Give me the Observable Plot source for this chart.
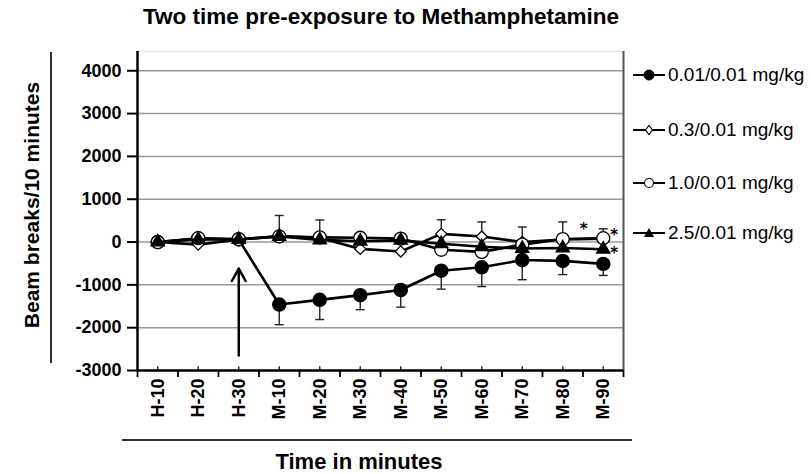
<!DOCTYPE html>
<html><head><meta charset="utf-8">
<script src="https://cdn.jsdelivr.net/npm/d3@7"></script>
<script src="https://cdn.jsdelivr.net/npm/@observablehq/plot@0.6"></script>
<style>
html,body{margin:0;padding:0;background:#fff;}
#wrap{position:relative;width:811px;height:474px;font-family:"Liberation Sans",Arial,sans-serif;color:#000;overflow:hidden;background:#fff}
#wrap svg.plot{position:absolute;left:0;top:0;}
.abs{position:absolute;white-space:nowrap;}
#title{left:0;width:762px;top:6px;text-align:center;font-weight:bold;font-size:22.5px;line-height:22px;}
#ytitle{left:-118px;width:300px;top:194px;height:22px;text-align:center;font-weight:bold;font-size:21px;line-height:22px;transform:rotate(-90deg);}
#yline{left:50px;top:52px;width:2px;height:311px;background:#333;}
#xtitle{left:0;width:718px;top:451px;text-align:center;font-weight:bold;font-size:22px;line-height:22px;}
#xline{left:122px;top:439px;width:510px;height:2px;background:#333;}
.leg{left:633px;height:20px;font-size:19px;line-height:20px;display:flex;align-items:center;}
.leg svg{display:block;margin-right:1px;}
</style>
</head><body>
<div id="wrap">
  <div id="title" class="abs"></div>
  <div id="ytitle" class="abs"></div>
  <div id="yline" class="abs"></div>
  <div id="xtitle" class="abs"></div>
  <div id="xline" class="abs"></div>
</div>
<script>
// ---- data ----
const chartTitle = "Two time pre-exposure to Methamphetamine";
const yTitle = "Beam breaks/10 minutes";
const xTitle = "Time in minutes";
const categories = ["H-10","H-20","H-30","M-10","M-20","M-30","M-40","M-50","M-60","M-70","M-80","M-90"];
const seriesNames = ["0.01/0.01 mg/kg","0.3/0.01 mg/kg","1.0/0.01 mg/kg","2.5/0.01 mg/kg"];
const s1 = [0, 80, 60, -1460, -1350, -1240, -1120, -670, -590, -420, -440, -510];
const s1ErrDown = [0, 0, 0, 470, 460, 340, 400, 430, 450, 460, 320, 270];
const s2 = [0, -60, 60, 140, 100, -160, -220, 190, 130, 0, 60, 80];
const s2ErrUp = [0, 0, 0, 480, 415, 0, 0, 330, 340, 350, 410, 230];
const s3 = [0, 90, 70, 130, 110, 100, 80, -180, -230, -60, 70, 90];
const s4 = [0, 60, 60, 130, 50, 20, 40, -40, -110, -150, -140, -170];
const yTicks = [-3000, -2000, -1000, 0, 1000, 2000, 3000, 4000];
const yDomain = [-3000, 4450];
const arrowCategory = "H-30";
const arrowFrom = -2650, arrowTo = -620;
const starM80 = [400];
const starM90 = [255, -165];

// ---- build ----
const idx = c => categories.indexOf(c) + 0.5;
const mk = (vals, errs) => vals.map((v, i) => ({cat: categories[i], x: i + 0.5, y: v, e: errs ? errs[i] : 0}));
const d1 = mk(s1, s1ErrDown), d2 = mk(s2, s2ErrUp), d3s = mk(s3), d4 = mk(s4);
const centers = categories.map((c, i) => i + 0.5);
const bounds = d3.range(0, categories.length + 1);
const capHalf = 0.11;

const lineStyle = {x: "x", y: "y", stroke: "black", strokeWidth: 2.6};
const errStyle = {stroke: "#222", strokeWidth: 1.4};
const starStyle = {text: () => "*", fontSize: 15, fontWeight: "bold", fontFamily: '"DejaVu Sans", sans-serif'};

const plot = Plot.plot({
  width: 811, height: 474,
  marginLeft: 137, marginRight: 188, marginTop: 51, marginBottom: 104,
  style: {fontFamily: '"Liberation Sans", Arial, sans-serif', background: "transparent", overflow: "visible"},
  x: {type: "linear", domain: [0, categories.length]},
  y: {domain: yDomain},
  marks: [
    Plot.ruleY([yDomain[1]], {stroke: "#e4e4e4", strokeWidth: 1.5}),
    Plot.gridY({ticks: yTicks.filter(t => t > yDomain[0]), stroke: "#999", strokeOpacity: 1, strokeWidth: 1.5}),
    Plot.ruleX([categories.length], {stroke: "#555", strokeWidth: 2}),
    // error bars
    Plot.ruleX(d1.filter(d => d.e > 0), {x: "x", y1: "y", y2: d => d.y - d.e, ...errStyle}),
    Plot.link(d1.filter(d => d.e > 0), {x1: d => d.x - capHalf, x2: d => d.x + capHalf, y1: d => d.y - d.e, y2: d => d.y - d.e, ...errStyle}),
    Plot.ruleX(d2.filter(d => d.e > 0), {x: "x", y1: "y", y2: d => d.y + d.e, ...errStyle}),
    Plot.link(d2.filter(d => d.e > 0), {x1: d => d.x - capHalf, x2: d => d.x + capHalf, y1: d => d.y + d.e, y2: d => d.y + d.e, ...errStyle}),
    // series
    Plot.line(d1, lineStyle),
    Plot.dot(d1, {x: "x", y: "y", symbol: "circle", r: 6.5, fill: "black", stroke: "black"}),
    Plot.line(d2, lineStyle),
    Plot.dot(d2, {x: "x", y: "y", symbol: "diamond2", r: 5, fill: "white", stroke: "black", strokeWidth: 1.3}),
    Plot.line(d3s, lineStyle),
    Plot.dot(d3s, {x: "x", y: "y", symbol: "circle", r: 6.5, fill: "white", stroke: "black", strokeWidth: 1.3}),
    Plot.line(d4, lineStyle),
    Plot.dot(d4, {x: "x", y: "y", symbol: "triangle", r: 4.8, fill: "black", stroke: "black"}),
    // arrow
    Plot.arrow([{x: idx(arrowCategory), y1: arrowFrom, y2: arrowTo}], {x1: "x", x2: "x", y1: "y1", y2: "y2", stroke: "black", strokeWidth: 2.5, headLength: 8.5, headAngle: 58}),
    // asterisks
    Plot.text(starM80, {x: idx("M-80"), y: d => d, dx: 21, dy: 4, ...starStyle}),
    Plot.text(starM90, {x: idx("M-90"), y: d => d, dx: 11, dy: 4, ...starStyle}),
    // axes
    Plot.axisY({ticks: yTicks, tickFormat: d => String(d), tickSize: 10, tickPadding: 6, fontSize: 18, fontWeight: "bold", stroke: "black", strokeWidth: 2, label: null}),
    Plot.axisX({ticks: bounds, tickSize: 7, text: null, stroke: "black", strokeWidth: 1.8, label: null}),
    Plot.ruleX(centers, {y1: yDomain[0], y2: yDomain[0] + 90, stroke: "#333", strokeWidth: 1.5}),
    Plot.axisX({ticks: centers, tickFormat: d => categories[Math.floor(d)], tickSize: 0, tickPadding: 8, tickRotate: -90, fontSize: 18, fontWeight: "bold", label: null}),
    Plot.ruleX([0], {stroke: "black", strokeWidth: 2.5}),
    Plot.ruleY([yDomain[0]], {stroke: "black", strokeWidth: 2.5})
  ]
});
plot.classList.add("plot");
const wrap = document.getElementById("wrap");
wrap.insertBefore(plot, wrap.firstChild);
document.getElementById("title").textContent = chartTitle;
document.getElementById("ytitle").textContent = yTitle;
document.getElementById("xtitle").textContent = xTitle;

// legend
const legendSymbols = [
  '<circle cx="16" cy="10" r="5" fill="black" stroke="black"/>',
  '<path d="M16,5.5L19.5,10L16,14.5L12.5,10Z" fill="white" stroke="black" stroke-width="1.2"/>',
  '<circle cx="16" cy="10" r="4.5" fill="white" stroke="black" stroke-width="1.2"/>',
  '<path d="M16,5L21,14L11,14Z" fill="black"/>'
];
const legendY = [75, 130, 183, 233];
seriesNames.forEach((name, i) => {
  const row = document.createElement("div");
  row.className = "abs leg";
  row.style.top = (legendY[i] - 10) + "px";
  row.innerHTML = '<svg width="34" height="20"><line x1="0" y1="10" x2="32" y2="10" stroke="black" stroke-width="2"/>' + legendSymbols[i] + '</svg><span>' + name + '</span>';
  wrap.appendChild(row);
});
</script>
</body></html>
